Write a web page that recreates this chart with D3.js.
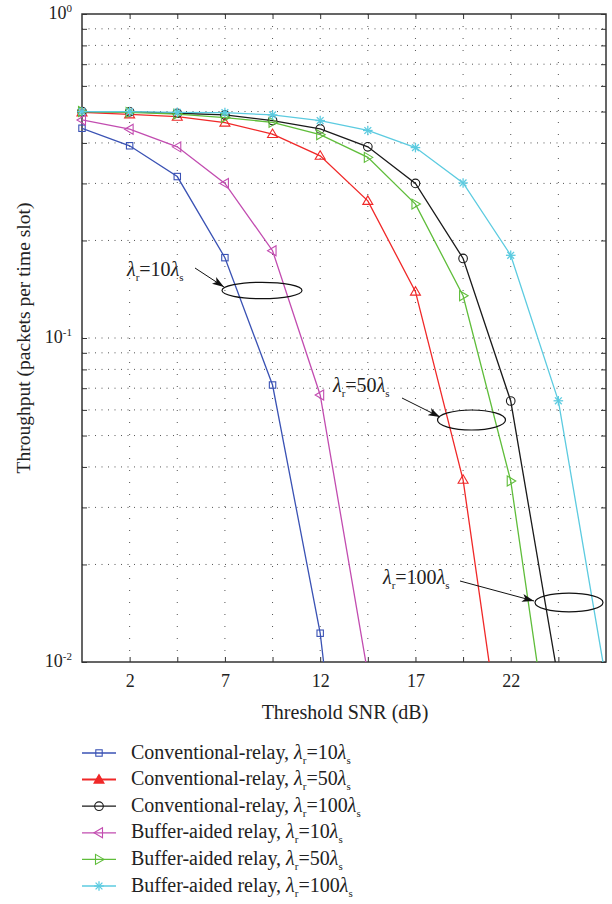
<!DOCTYPE html>
<html><head><meta charset="utf-8">
<script src="https://cdn.jsdelivr.net/npm/d3@7"></script>
<style>body{margin:0;background:#fff;} svg{display:block;font-family:"Liberation Serif","DejaVu Serif",serif;}</style>
</head><body>
<svg id="chart" width="612" height="904"></svg>
<script>
// ---- data ----
const snrValues = [-0.5, 2, 4.5, 7, 9.5, 12, 14.5, 17, 19.5, 22, 24.5, 27];
const xTickValues = [2, 4.5, 7, 9.5, 12, 14.5, 17, 19.5, 22, 24.5];
const xTickLabels = ["2", "", "7", "", "12", "", "17", "", "22", ""];
const yDecades = [0.01, 0.1, 1];
const yDecadeExponents = ["-2", "-1", "0"];
const conv10 = [0.444, 0.392, 0.315, 0.177, 0.0716, 0.01227, 0.0007];
const conv50 = [0.497, 0.490, 0.482, 0.462, 0.426, 0.365, 0.265, 0.139, 0.0365, 0.0034];
const conv100 = [0.500, 0.499, 0.494, 0.488, 0.469, 0.442, 0.389, 0.300, 0.176, 0.0639, 0.0088];
const buf10 = [0.471, 0.441, 0.389, 0.300, 0.186, 0.0667, 0.0092];
const buf50 = [0.500, 0.497, 0.491, 0.479, 0.463, 0.424, 0.361, 0.259, 0.135, 0.0362, 0.0035];
const buf100 = [0.500, 0.500, 0.497, 0.496, 0.488, 0.469, 0.437, 0.387, 0.301, 0.180, 0.064, 0.0088];
const seriesPrefix = ["Conventional-relay, ", "Conventional-relay, ", "Conventional-relay, ",
                      "Buffer-aided relay, ", "Buffer-aided relay, ", "Buffer-aided relay, "];
const seriesRatio = ["10", "50", "100", "10", "50", "100"];
const seriesColors = ["#3a52b4", "#f02828", "#1a1a1a", "#c24cb0", "#5fbd3a", "#5ccbe0"];
const seriesMarkers = ["square", "triangleUp", "circle", "triangleLeft", "triangleRight", "asterisk"];
const seriesValues = [conv10, conv50, conv100, buf10, buf50, buf100];
const annotRatios = ["10", "50", "100"];
const xTitle = "Threshold SNR (dB)";
const yTitle = "Throughput (packets per time slot)";

// ---- layout ----
const svg = d3.select("#chart");
const L = 82, R = 606, T = 14, B = 662;
const x = d3.scaleLinear().domain([-0.5, 27]).range([L, R]);
const y = d3.scaleLog().domain([0.01, 1]).range([B, T]);
const fs = 18;

svg.append("defs").append("clipPath").attr("id", "clip")
  .append("rect").attr("x", L).attr("y", T).attr("width", R - L).attr("height", B - T);

// minor log values
const yMinor = [];
for (let d = 0; d < 2; d++) for (let k = 2; k <= 9; k++) yMinor.push(yDecades[d] * k);
const yAll = yDecades.concat(yMinor);

// grid
const grid = svg.append("g").attr("stroke", "#555").attr("stroke-width", 1);
yAll.filter(v => v > 0.01 && v < 1).forEach(v => {
  grid.append("line").attr("x1", L).attr("x2", R).attr("y1", y(v)).attr("y2", y(v))
    .attr("stroke-dasharray", "1,5.5");
});
xTickValues.forEach(v => {
  grid.append("line").attr("x1", x(v)).attr("x2", x(v)).attr("y1", T).attr("y2", B)
    .attr("stroke-dasharray", "1,11");
});

// axes via d3
const axisColor = "#333";
const gB = svg.append("g").attr("transform", `translate(0,${B})`)
  .call(d3.axisBottom(x).tickValues(xTickValues).tickSizeInner(-5).tickSizeOuter(0)
    .tickPadding(12).tickFormat((d, i) => xTickLabels[i]));
const gT = svg.append("g").attr("transform", `translate(0,${T})`)
  .call(d3.axisTop(x).tickValues(xTickValues).tickSizeInner(-5).tickSizeOuter(0).tickFormat(""));
const gL = svg.append("g").attr("transform", `translate(${L},0)`)
  .call(d3.axisLeft(y).tickValues(yAll).tickSizeInner(-5).tickSizeOuter(0).tickFormat(""));
const gR = svg.append("g").attr("transform", `translate(${R},0)`)
  .call(d3.axisRight(y).tickValues(yAll).tickSizeInner(-5).tickSizeOuter(0).tickFormat(""));
[gB, gT, gL, gR].forEach(g => {
  g.select(".domain").remove();
  g.selectAll(".tick line").attr("stroke", axisColor).attr("stroke-width", 1);
});
gB.selectAll(".tick text").attr("font-size", fs).attr("fill", "#222")
  .attr("font-family", "Liberation Serif, serif");

// y decade labels
yDecades.forEach((v, i) => {
  const t = svg.append("text").attr("x", 72).attr("y", y(v) + 5).attr("text-anchor", "end")
    .attr("font-size", fs).attr("fill", "#222");
  t.append("tspan").text("10");
  t.append("tspan").attr("font-size", 11).attr("dy", -7).text(yDecadeExponents[i]);
});

// frame
svg.append("rect").attr("x", L).attr("y", T).attr("width", R - L).attr("height", B - T)
  .attr("fill", "none").attr("stroke", axisColor).attr("stroke-width", 1.5);

// markers
function drawMarker(g, type, cx, cy, color, filled) {
  const fill = filled ? color : "none";
  if (type === "square") {
    g.append("rect").attr("x", cx - 3.2).attr("y", cy - 3.2).attr("width", 6.4).attr("height", 6.4)
      .attr("fill", fill).attr("stroke", color).attr("stroke-width", 1.1);
  } else if (type === "circle") {
    g.append("circle").attr("cx", cx).attr("cy", cy).attr("r", 4.3)
      .attr("fill", fill).attr("stroke", color).attr("stroke-width", 1.1);
  } else if (type === "asterisk") {
    const r = 4.8;
    for (let a = 0; a < 4; a++) {
      const ang = a * Math.PI / 4;
      g.append("line").attr("x1", cx - r * Math.cos(ang)).attr("y1", cy - r * Math.sin(ang))
        .attr("x2", cx + r * Math.cos(ang)).attr("y2", cy + r * Math.sin(ang))
        .attr("stroke", color).attr("stroke-width", 1.3);
    }
  } else {
    const s = 5;
    let pts;
    if (type === "triangleUp") pts = [[cx, cy - s], [cx - s, cy + s * 0.7], [cx + s, cy + s * 0.7]];
    else if (type === "triangleLeft") pts = [[cx - s, cy], [cx + s * 0.7, cy - s], [cx + s * 0.7, cy + s]];
    else pts = [[cx + s, cy], [cx - s * 0.7, cy - s], [cx - s * 0.7, cy + s]];
    g.append("polygon").attr("points", pts.map(p => p.join(",")).join(" "))
      .attr("fill", fill).attr("stroke", color).attr("stroke-width", 1.1);
  }
}

// series
const line = d3.line().x(d => x(d[0])).y(d => y(d[1]));
const plotG = svg.append("g");
seriesValues.forEach((vals, si) => {
  const pts = vals.map((v, i) => [snrValues[i], v]);
  plotG.append("path").attr("d", line(pts)).attr("fill", "none")
    .attr("stroke", seriesColors[si]).attr("stroke-width", 1.3).attr("clip-path", "url(#clip)");
  pts.filter(p => p[1] >= 0.01).forEach(p => drawMarker(plotG, seriesMarkers[si], x(p[0]), y(p[1]), seriesColors[si], false));
});

// lambda label helper
function lambdaLabel(t, ratio, subSize) {
  t.append("tspan").attr("font-style", "italic").text("λ");
  t.append("tspan").attr("font-size", subSize).attr("dy", 5).text("r");
  t.append("tspan").attr("dy", -5).text("=" + ratio);
  t.append("tspan").attr("font-style", "italic").text("λ");
  t.append("tspan").attr("font-size", subSize).attr("dy", 5).text("s");
}

// annotations
svg.append("defs").append("marker").attr("id", "arrow").attr("viewBox", "0 0 12 8")
  .attr("refX", 12).attr("refY", 4).attr("markerWidth", 12).attr("markerHeight", 8)
  .attr("markerUnits", "userSpaceOnUse").attr("orient", "auto")
  .append("path").attr("d", "M0,0 L12,4 L0,8 L3,4 Z").attr("fill", "#111");
const annots = [
  {tx: 127, ty: 276, ax1: 195, ay1: 268, ax2: 224, ay2: 287, ex: 262, ey: 290.5, rx: 40, ry: 8.2},
  {tx: 333, ty: 392, ax1: 402, ay1: 398, ax2: 440, ay2: 417, ex: 471.5, ey: 420, rx: 34, ry: 10},
  {tx: 383, ty: 584, ax1: 460, ay1: 581, ax2: 534, ay2: 601, ex: 569, ey: 602.5, rx: 34, ry: 9.3}
];
annots.forEach((a, i) => {
  const t = svg.append("text").attr("x", a.tx).attr("y", a.ty).attr("font-size", 20).attr("fill", "#222");
  lambdaLabel(t, annotRatios[i], 11);
  svg.append("line").attr("x1", a.ax1).attr("y1", a.ay1).attr("x2", a.ax2).attr("y2", a.ay2)
    .attr("stroke", "#111").attr("stroke-width", 1).attr("marker-end", "url(#arrow)");
  svg.append("ellipse").attr("cx", a.ex).attr("cy", a.ey).attr("rx", a.rx).attr("ry", a.ry)
    .attr("fill", "none").attr("stroke", "#111").attr("stroke-width", 1.2);
});

// axis titles
svg.append("text").attr("x", (L + R) / 2 + 1).attr("y", 719).attr("text-anchor", "middle")
  .attr("font-size", 20).attr("fill", "#222").text(xTitle);
svg.append("text").attr("transform", `translate(30,${(T + B) / 2}) rotate(-90)`)
  .attr("text-anchor", "middle").attr("font-size", 19.5).attr("fill", "#222").text(yTitle);

// legend
const lg = svg.append("g");
seriesValues.forEach((vals, si) => {
  const ly = 753 + si * 26.6;
  lg.append("line").attr("x1", 82).attr("x2", 116).attr("y1", ly).attr("y2", ly)
    .attr("stroke", seriesColors[si]).attr("stroke-width", si === 1 ? 2 : 1.3);
  drawMarker(lg, seriesMarkers[si], 99, ly, seriesColors[si], si === 1);
  const t = lg.append("text").attr("x", 131).attr("y", ly + 5.5).attr("font-size", 20).attr("fill", "#222");
  t.append("tspan").text(seriesPrefix[si]);
  lambdaLabel(t, seriesRatio[si], 11);
});
</script>
</body></html>
